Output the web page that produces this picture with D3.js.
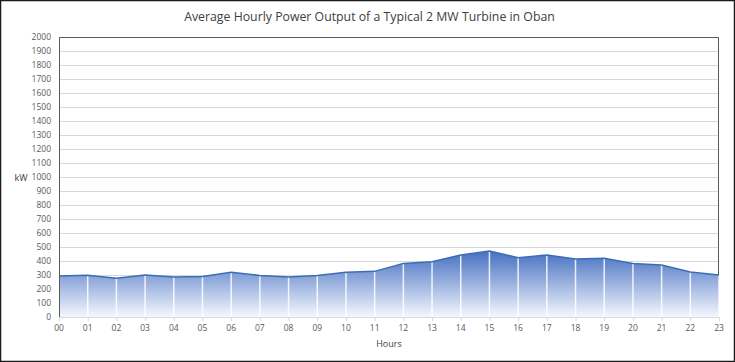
<!DOCTYPE html>
<html>
<head>
<meta charset="utf-8">
<script src="https://cdn.jsdelivr.net/npm/d3@7"></script>
<style>
body { margin: 0; background: #fff; }
svg { display: block; }
</style>
</head>
<body>
<div id="chart"></div>
<script>
// hourly values
var hours = ["00","01","02","03","04","05","06","07","08","09","10","11",
             "12","13","14","15","16","17","18","19","20","21","22","23"];
var power = [292, 298, 277, 300, 285, 290, 320, 296, 285, 296, 319, 326,
             383, 395, 443, 471, 424, 443, 414, 419, 383, 371, 321, 300];
var yTicks = d3.range(0, 2001, 100);

var width = 735,
	height = 362,
	margin = {top: 37, right: 16, bottom: 45, left: 59};

var svg = d3.select("#chart").append("svg")
	.attr("width", width)
	.attr("height", height);

// outer frame
svg.append("rect")
	.attr("x", 0.5).attr("y", 0.5)
	.attr("width", width - 1).attr("height", height - 1)
	.attr("fill", "#fff")
	.attr("stroke", "#1a1a1a")
	.attr("stroke-width", 1.5);

var x = d3.scalePoint()
	.domain(hours)
	.range([margin.left, width - margin.right]);

var y = d3.scaleLinear()
	.domain([0, 2000])
	.range([height - margin.bottom, margin.top]);

var defs = svg.append("defs");
var grad = defs.append("linearGradient")
	.attr("id", "fillGrad")
	.attr("gradientUnits", "userSpaceOnUse")
	.attr("x1", 0).attr("x2", 0)
	.attr("y1", y(d3.max(power))).attr("y2", y(0));
grad.append("stop").attr("offset", "0%").attr("stop-color", "#4570c2");
grad.append("stop").attr("offset", "100%").attr("stop-color", "#f5f7fd");

// gridlines
svg.append("g")
	.selectAll("line")
	.data(yTicks.slice(1))
	.enter().append("line")
	.attr("x1", margin.left).attr("x2", width - margin.right)
	.attr("y1", function(d){ return y(d) + 0.5; })
	.attr("y2", function(d){ return y(d) + 0.5; })
	.attr("stroke", "#d9d9d9")
	.attr("stroke-width", 1);

var area = d3.area()
	.x(function(d, i){ return x(hours[i]); })
	.y0(y(0))
	.y1(function(d){ return y(d); });

svg.append("path")
	.datum(power)
	.attr("d", area)
	.attr("fill", "url(#fillGrad)");

// white drop lines at each point
svg.append("g")
	.selectAll("line")
	.data(power)
	.enter().append("line")
	.attr("x1", function(d, i){ return x(hours[i]); })
	.attr("x2", function(d, i){ return x(hours[i]); })
	.attr("y1", function(d){ return y(d); })
	.attr("y2", y(0))
	.attr("stroke", "#fff")
	.attr("stroke-opacity", 0.85)
	.attr("stroke-width", 1.5);

var line = d3.line()
	.x(function(d, i){ return x(hours[i]); })
	.y(function(d){ return y(d); });

svg.append("path")
	.datum(power)
	.attr("d", line)
	.attr("fill", "none")
	.attr("stroke", "#3b6db5")
	.attr("stroke-width", 1.5);

// plot border: left, top, right dark; bottom light axis
var x0 = margin.left, x1 = width - margin.right, yt = margin.top, yb = height - margin.bottom;
svg.append("path")
	.attr("d", "M" + (x0 + 0.5) + "," + yb + "V" + (yt + 0.5) + "H" + (x1 - 0.5) + "V" + y(300))
	.attr("fill", "none")
	.attr("stroke", "#595959")
	.attr("stroke-width", 1);

svg.append("line")
	.attr("x1", x0).attr("x2", x1)
	.attr("y1", yb + 0.5).attr("y2", yb + 0.5)
	.attr("stroke", "#d9d9d9");

// x tick marks
svg.append("g")
	.selectAll("line")
	.data(hours)
	.enter().append("line")
	.attr("x1", function(d){ return x(d) + 0.5; })
	.attr("x2", function(d){ return x(d) + 0.5; })
	.attr("y1", yb).attr("y2", yb + 4)
	.attr("stroke", "#d9d9d9");

var font = "'Open Sans', 'Liberation Sans', sans-serif";

svg.append("g")
	.selectAll("text")
	.data(yTicks)
	.enter().append("text")
	.attr("x", margin.left - 8)
	.attr("y", function(d){ return y(d); })
	.attr("dy", "0.35em")
	.attr("text-anchor", "end")
	.attr("font-family", font)
	.attr("font-size", 8.5)
	.attr("fill", "#595959")
	.text(function(d){ return d; });

svg.append("g")
	.selectAll("text")
	.data(hours)
	.enter().append("text")
	.attr("x", function(d){ return x(d); })
	.attr("y", yb + 14)
	.attr("text-anchor", "middle")
	.attr("font-family", font)
	.attr("font-size", 8.5)
	.attr("fill", "#595959")
	.text(function(d){ return d; });

svg.append("text")
	.attr("x", width / 2 + 2)
	.attr("y", 21)
	.attr("text-anchor", "middle")
	.attr("font-family", font)
	.attr("font-size", 12.3)
	.attr("fill", "#404040")
	.text("Average Hourly Power Output of a Typical 2 MW Turbine in Oban");

svg.append("text")
	.attr("x", 21)
	.attr("y", 181)
	.attr("text-anchor", "middle")
	.attr("font-family", font)
	.attr("font-size", 9)
	.attr("fill", "#404040")
	.text("kW");

svg.append("text")
	.attr("x", 389)
	.attr("y", 347)
	.attr("text-anchor", "middle")
	.attr("font-family", font)
	.attr("font-size", 9)
	.attr("fill", "#404040")
	.text("Hours");
</script>
</body>
</html>
